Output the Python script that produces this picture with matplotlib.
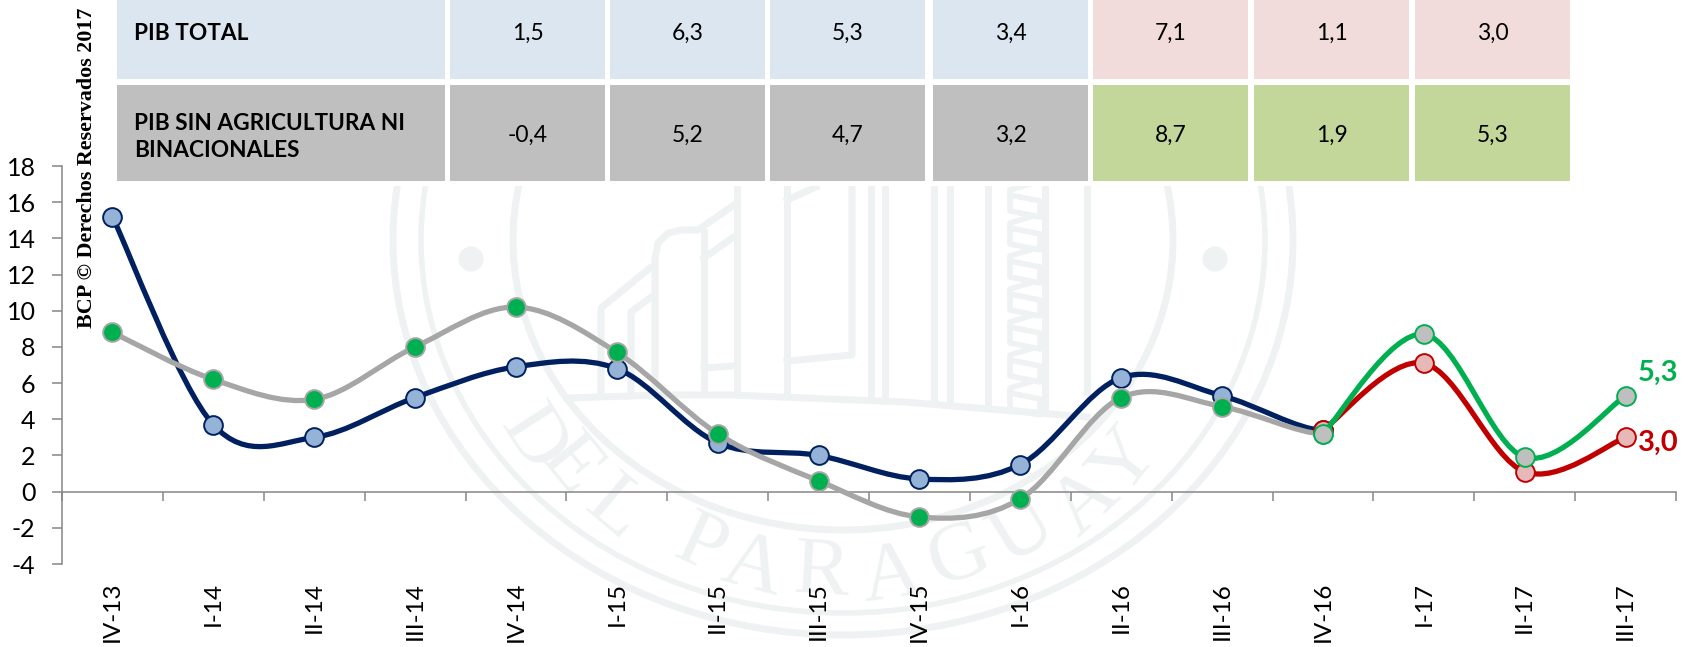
import numpy as np
import matplotlib
matplotlib.use("Agg")
import matplotlib.pyplot as plt
from matplotlib.patches import Circle, Ellipse, PathPatch, Rectangle
from matplotlib.path import Path

plt.rcParams['font.family'] = ['Lato', 'DejaVu Sans']

# data
quarters = ['IV-13', 'I-14', 'II-14', 'III-14', 'IV-14', 'I-15', 'II-15', 'III-15',
            'IV-15', 'I-16', 'II-16', 'III-16', 'IV-16', 'I-17', 'II-17', 'III-17']
pib_total = [15.2, 3.7, 3.0, 5.2, 6.9, 6.8, 2.7, 2.0, 0.7, 1.5, 6.3, 5.3, 3.4]
pib_total_proj = [3.4, 7.1, 1.1, 3.0]
pib_sin = [8.8, 6.2, 5.1, 8.0, 10.2, 7.7, 3.2, 0.6, -1.4, -0.4, 5.2, 4.7, 3.2]
pib_sin_proj = [3.2, 8.7, 1.9, 5.3]

row_names = ['PIB TOTAL', 'PIB SIN AGRICULTURA NI\nBINACIONALES']
row_total = ['1,5', '6,3', '5,3', '3,4', '7,1', '1,1', '3,0']
row_sin = ['-0,4', '5,2', '4,7', '3,2', '8,7', '1,9', '5,3']
y_ticks = [-4, -2, 0, 2, 4, 6, 8, 10, 12, 14, 16, 18]

W, H = 1685, 647
fig = plt.figure(figsize=(W / 100, H / 100), dpi=100)

# background layer in pixels: watermark and table
bg = fig.add_axes([0, 0, 1, 1], zorder=0)
bg.set_xlim(0, W)
bg.set_ylim(H, 0)
bg.axis('off')

mark = '#EEF2F2'
cx, cy = 843, 240
for a, b, lw in [(450, 395, 5), (422, 373, 4), (330, 290, 5)]:
    bg.add_patch(Ellipse((cx, cy), 2 * a, 2 * b, fill=False, ec=mark, lw=lw))
for x in [471, 1215]:
    bg.add_patch(Circle((x, 259), 12.5, fc=mark, ec='none'))

# building of the seal
building = [
    [(601, 393), (601, 308), (650, 268)],
    [(631, 393), (631, 312), (650, 298)],
    [(655, 393), (655, 258), (658, 243), (668, 233), (682, 230), (698, 230), (737, 203)],
    [(704, 392), (704, 232)],
    [(737, 392), (737, 187)],
    [(704, 258), (732, 238)],
    [(704, 368), (732, 366)],
    [(787, 392), (787, 187)],
    [(787, 200), (816, 187)],
    [(787, 361), (852, 355), (852, 187)],
    [(871, 396), (871, 187)],
    [(885, 396), (885, 187)],
    [(934, 400), (934, 187)],
    [(950, 400), (950, 187)],
    [(988, 404), (988, 187)],
    [(1045, 410), (1045, 187)],
    [(1087, 392), (1087, 187)],
]
for line in building:
    xs, ys = zip(*line)
    bg.plot(xs, ys, color=mark, lw=5, solid_joinstyle='round')
bg.plot([567, 663, 732, 904, 1087], [398, 395, 395, 402, 417], color=mark, lw=5)
for y in range(187, 395, 33):
    bg.plot([1030, 1010, 1010, 1040, 1040, 1010], [y - 3, y + 3, y + 24, y + 30, y + 14, y + 8],
            color=mark, lw=4, solid_joinstyle='round')

# curved seal text, letters placed one by one around the seal centre
seal = [('D', 532, 440), ('E', 569, 467), ('L', 615, 510), ('P', 701, 547), ('A', 753, 567), ('R', 822, 573),
        ('A', 891, 577), ('G', 960, 557), ('U', 1023, 533), ('A', 1086, 503), ('Y', 1126, 463)]
for ch, x, y in seal:
    a = np.degrees(np.arctan2(x - cx, y - cy))
    bg.text(x, y, ch, rotation=a, rotation_mode='anchor', ha='center', va='center',
            family='Liberation Serif', fontsize=60, color=mark)

bg.add_patch(Rectangle((0, 0), W, 186, fc='white', ec='none', zorder=2))

# table
col_x = [450, 610, 770, 933, 1093, 1254, 1415]
rows = [
    (0, 78.5, 33.5, 33.5, row_names[0], row_total, ['#DCE6F1'] * 4 + ['#F2DCDB'] * 3),
    (84.5, 180.5, 137, 135, row_names[1], row_sin, ['#BFBFBF'] * 4 + ['#C4D79B'] * 3),
]
for top, bottom, name_y, val_y, name, values, colors in rows:
    bg.add_patch(Rectangle((117, top), 328, bottom - top, fc=colors[0], ec='none', zorder=3))
    bg.text(134, name_y, name, ha='left', va='center', fontsize=16.3, fontweight='bold',
            linespacing=1.4, zorder=4)
    for x, v, c in zip(col_x, values, colors):
        bg.add_patch(Rectangle((x, top), 155, bottom - top, fc=c, ec='none', zorder=3))
        bg.text(x + 77.5, val_y, v, ha='center', va='center', fontsize=16.5, zorder=4)

fig.text(87 / W, 1 - 167.5 / H, 'BCP © Derechos Reservados 2017', rotation=90, ha='center', va='center',
         family='Liberation Serif', fontweight='bold', fontsize=15.8, zorder=10)

# chart on top
ax = fig.add_axes([62 / W, (H - 564) / H, 1614 / W, 398 / H], zorder=5)
ax.patch.set_visible(False)
ax.set_xlim(0, 16)
ax.set_ylim(-4, 18)


def smooth(xs, ys, flat_end=False):
    # bezier through the points like a spreadsheet "smoothed line"
    verts = [(xs[0], ys[0])]
    codes = [Path.MOVETO]
    n = len(xs)
    for i in range(n - 1):
        a, b = max(i - 1, 0), min(i + 2, n - 1)
        verts.append((xs[i] + (xs[i + 1] - xs[a]) / 6, ys[i] + (ys[i + 1] - ys[a]) / 6))
        if flat_end and i == n - 2:
            verts.append((xs[i + 1] - 0.25, ys[i + 1]))
        else:
            verts.append((xs[i + 1] - (xs[b] - xs[i]) / 6, ys[i + 1] - (ys[b] - ys[i]) / 6))
        verts.append((xs[i + 1], ys[i + 1]))
        codes += [Path.CURVE4] * 3
    return Path(verts, codes)


def series(start, values, line, face, edge, z, flat_end=False):
    xs = np.arange(len(values)) + start + 0.5
    ax.add_patch(PathPatch(smooth(xs, values, flat_end), fc='none', ec=line, lw=3.8, zorder=z, capstyle='round'))
    ax.plot(xs, values, ls='none', marker='o', ms=13.5, mfc=face, mec=edge, mew=1.4,
            zorder=z + 0.5, clip_on=False)


series(0, pib_total, '#002060', '#95B3D7', '#002060', 3, flat_end=True)
series(0, pib_sin, '#A6A6A6', '#00B050', '#A6A6A6', 4, flat_end=True)
series(12, pib_total_proj, '#C00000', '#E6B8B7', '#C00000', 5)
series(12, pib_sin_proj, '#00B050', '#BFBFBF', '#00B050', 6)

ax.annotate('5,3', (15.5, pib_sin_proj[-1]), xytext=(33, 23), textcoords='offset pixels', color='#00B050',
            fontsize=21, fontweight='bold', ha='center', va='center', annotation_clip=False)
ax.annotate('3,0', (15.5, pib_total_proj[-1]), xytext=(33, -5), textcoords='offset pixels', color='#C00000',
            fontsize=21, fontweight='bold', ha='center', va='center', annotation_clip=False)

for side in ['top', 'right']:
    ax.spines[side].set_visible(False)
ax.spines['bottom'].set_position(('data', 0))
for side in ['left', 'bottom']:
    ax.spines[side].set_color('#868686')
    ax.spines[side].set_linewidth(1.1)

ax.set_yticks(y_ticks)
ax.set_yticklabels([str(v) for v in y_ticks], fontsize=18)
ax.tick_params(axis='y', length=7, width=1.1, color='#868686', pad=12)

ax.set_xticks(np.arange(17))
ax.set_xticklabels([])
ax.tick_params(axis='x', which='major', length=6.5, width=1.1, color='#868686')
ax.set_xticks(np.arange(16) + 0.5, minor=True)
ax.set_xticklabels(quarters, minor=True, rotation=90, fontsize=17.5, va='top', ha='center')
ax.tick_params(axis='x', which='minor', length=0, pad=65)

fig.savefig('out.png', dpi=100)
